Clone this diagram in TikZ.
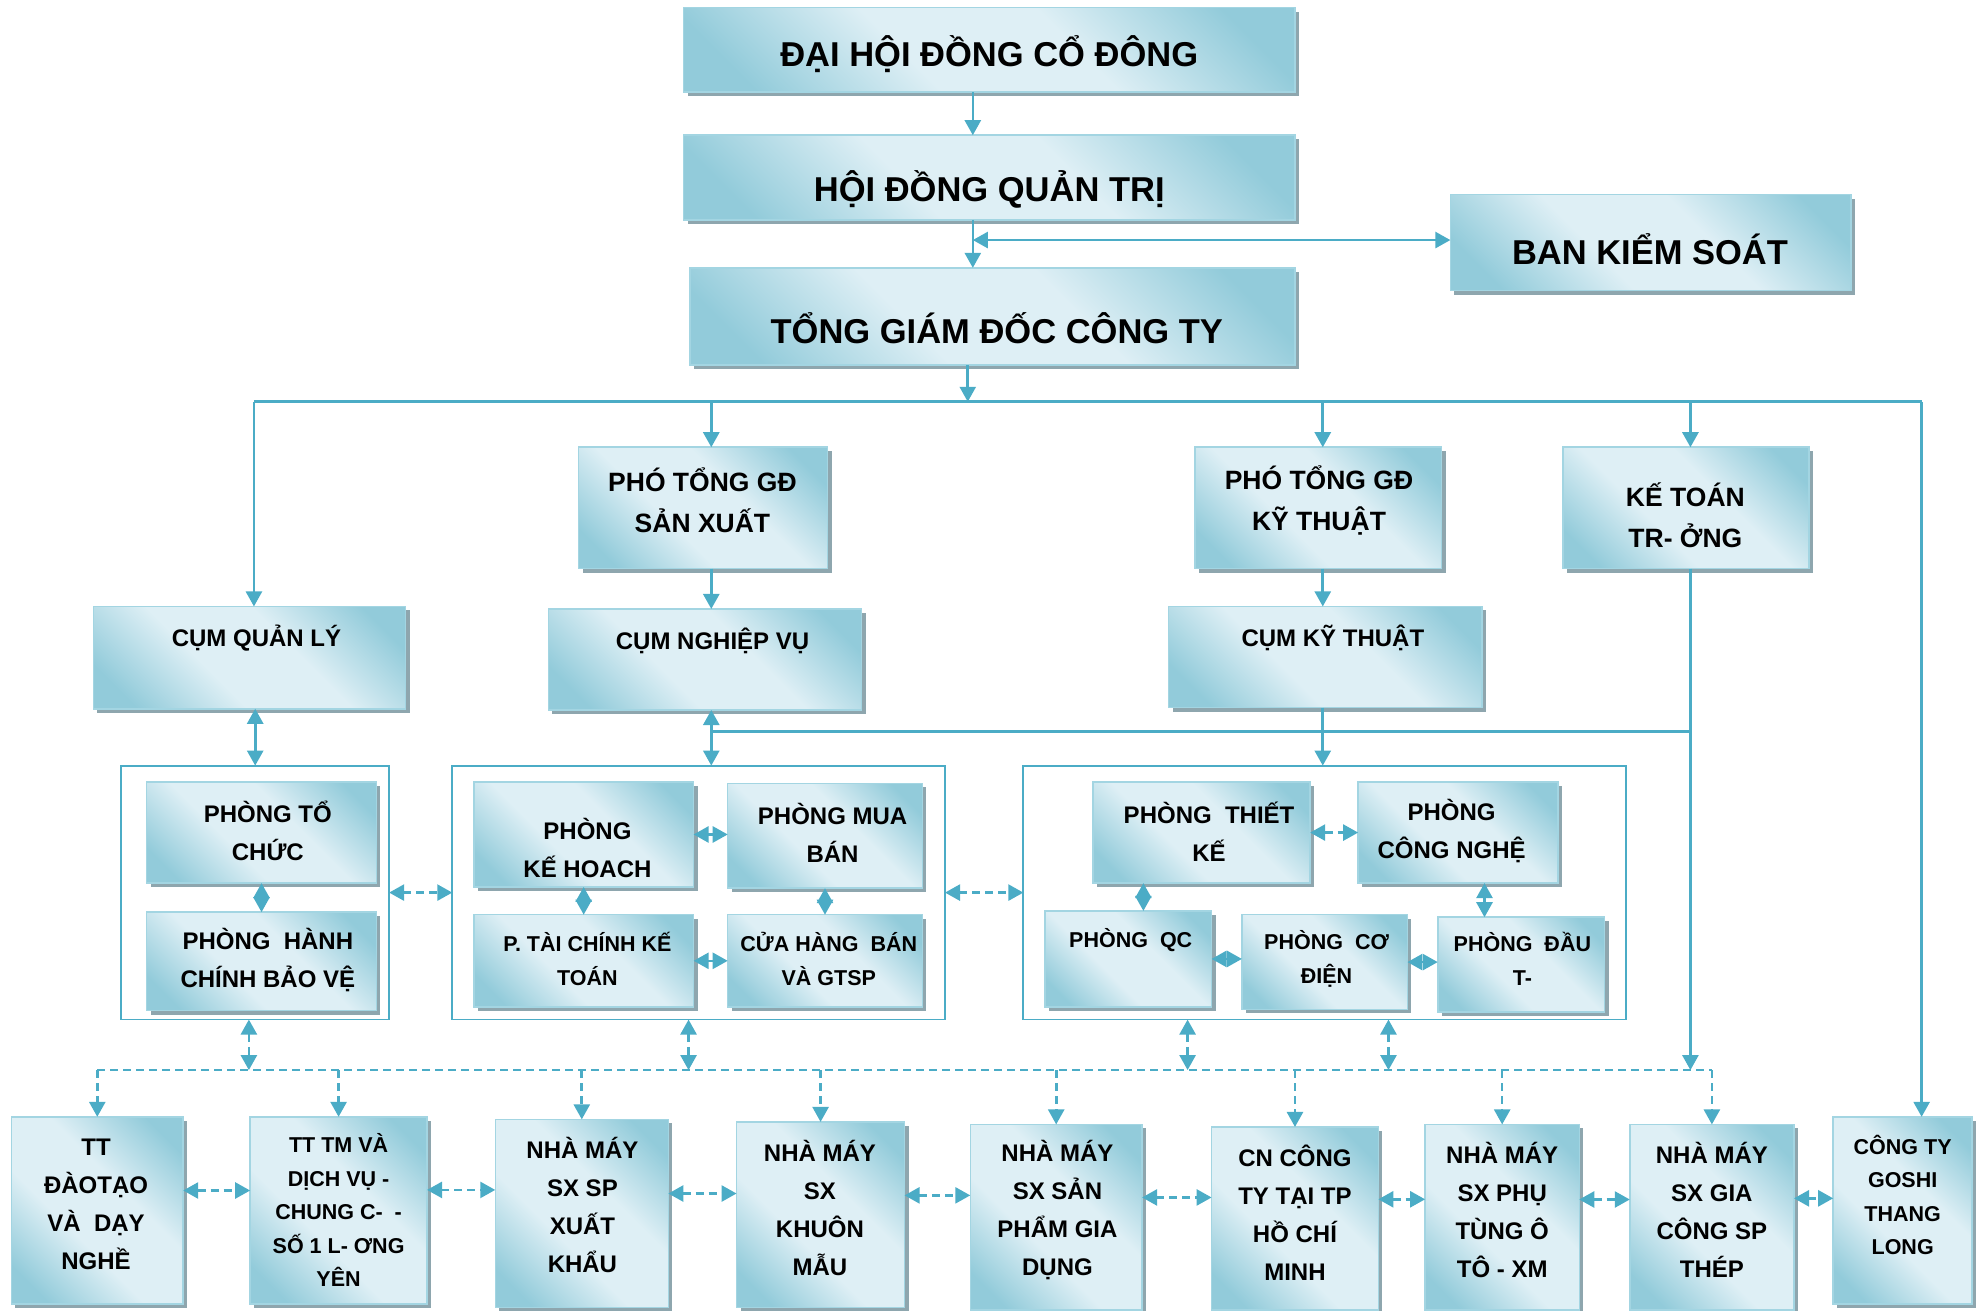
\documentclass[tikz,border=0pt]{standalone}
\usepackage{fontspec}
\setmainfont{Liberation Sans}
\usetikzlibrary{arrows.meta,fit,shadows}
\definecolor{xanh}{HTML}{4BACC6}
\definecolor{nhat}{HTML}{DEEFF5}
\definecolor{dam}{HTML}{92CBDA}
\definecolor{vien}{HTML}{A3D5E2}
\definecolor{bong}{HTML}{8EA6AE}
\pgfdeclareverticalshading{dai}{100bp}{color(0bp)=(dam); color(22bp)=(dam); color(41bp)=(nhat); color(59bp)=(nhat); color(78bp)=(dam); color(100bp)=(dam)}

\begin{document}
\begin{tikzpicture}[x=1.2634pt, y=-1.2634pt,
    hop/.style={draw=vien, line width=1.5pt, shading=dai, shading angle=-45, inner sep=0pt, outer sep=0pt,
        drop shadow={shadow xshift=4pt, shadow yshift=-4pt, fill=bong, opacity=1}},
    khung/.style={draw=xanh, line width=1.8pt, inner sep=0pt, outer sep=0pt},
    chu1/.style={font=\bfseries\fontsize{34.5}{40}\selectfont, inner sep=0pt},
    chu2/.style={font=\bfseries\fontsize{26.5}{41}\selectfont, align=center, inner sep=0pt},
    chu3/.style={font=\bfseries\fontsize{24}{38}\selectfont, align=center, inner sep=0pt},
    chu4/.style={font=\bfseries\fontsize{21.5}{33.5}\selectfont, align=center, inner sep=0pt},
    noi/.style={xanh, line width=2.6pt},
    tia/.style={noi, -{Triangle[width=16pt,length=15pt]}},
    hai/.style={noi, {Triangle[width=16pt,length=15pt]}-{Triangle[width=16pt,length=15pt]}},
    net/.style={dash pattern=on 8pt off 5pt}]
    \useasboundingbox (0,0) rectangle (1568,1037);

    \coordinate (tr) at (770,190);
    \coordinate (bus) at (766,318);
    \coordinate (b1) at (201,318);
    \coordinate (b2) at (563,318);
    \coordinate (b3) at (1047,318);
    \coordinate (b4) at (1338,318);
    \coordinate (b5) at (1521,318);
    \coordinate (k) at (563,579);
    \coordinate (x1) at (905,0);
    \coordinate (x2) at (1175,0);
    \coordinate (dl) at (77,847);
    \coordinate (dr) at (1355,847);
    \coordinate (d1) at (197,847);
    \coordinate (d2) at (545,847);
    \coordinate (d3) at (940,847);
    \coordinate (d4) at (1099,847);

    \node[hop, fit={(541,6) (1025,73)}] (dhdcd) {};
    \node[hop, fit={(541,107) (1025,174)}] (hdqt) {};
    \node[hop, fit={(1148,154) (1465,230)}] (bks) {};
    \node[hop, fit={(546,212) (1025,289)}] (tgd) {};
    \node[chu1] (dhdcdt) at (783,43) {ĐẠI HỘI ĐỒNG CỔ ĐÔNG};
    \node[chu1] (hdqtt) at (783,150) {HỘI ĐỒNG QUẢN TRỊ};
    \node[chu1] (bkst) at (1306,197) {BAN KIỂM SOÁT};
    \node[chu1] (tgdt) at (789,260) {TỔNG GIÁM ĐỐC CÔNG TY};

    \node[hop, fit={(458,354) (655,450)}] (ptgdsx) {};
    \node[hop, fit={(946,354) (1141,450)}] (ptgdkt) {};
    \node[hop, fit={(1237,354) (1432,450)}] (ktt) {};
    \node[chu2] (ptgdsxt) at (556,396) {PHÓ TỔNG GĐ\\SẢN XUẤT};
    \node[chu2] (ptgdktt) at (1044,396) {PHÓ TỔNG GĐ\\KỸ THUẬT};
    \node[chu2] (kttt) at (1334,408) {KẾ TOÁN\\TR- ỞNG};

    \node[hop, fit={(74,480) (321,561)}] (cql) {};
    \node[hop, fit={(434,482) (682,562)}] (cnv) {};
    \node[hop, fit={(925,480) (1173,560)}] (ckt) {};
    \node[chu3] (cqlt) at (203,505) {CỤM QUẢN LÝ};
    \node[chu3] (cnvt) at (564,507) {CỤM NGHIỆP VỤ};
    \node[chu3] (cktt) at (1055,505) {CỤM KỸ THUẬT};

    \node[khung, fit={(96,606) (308,807)}] (g1) {};
    \node[khung, fit={(358,606) (748,807)}] (g2) {};
    \node[khung, fit={(810,606) (1287,807)}] (g3) {};

    \node[hop, fit={(116,619) (298,699)}] (ptc) {};
    \node[hop, fit={(116,722) (298,800)}] (phc) {};
    \node[hop, fit={(375,619) (549,702)}] (pkh) {};
    \node[hop, fit={(576,620) (730,703)}] (pmb) {};
    \node[hop, fit={(375,724) (549,797)}] (ptck) {};
    \node[hop, fit={(576,724) (730,797)}] (pch) {};
    \node[hop, fit={(865,619) (1037,699)}] (ptk) {};
    \node[hop, fit={(1075,619) (1233,699)}] (pcn) {};
    \node[hop, fit={(827,721) (959,797)}] (pqc) {};
    \node[hop, fit={(983,724) (1114,799)}] (pcd) {};
    \node[hop, fit={(1138,726) (1270,801)}] (pdt) {};
    \node[chu3] (ptct) at (212,658) {PHÒNG TỔ\\CHỨC};
    \node[chu3] (phct) at (212,760) {PHÒNG\ \ HÀNH\\CHÍNH BẢO VỆ};
    \node[chu3] (pkht) at (465,671) {PHÒNG\\KẾ HOACH};
    \node[chu3] (pmbt) at (659,659) {PHÒNG MUA\\BÁN};
    \node[chu4] (ptckt) at (465,759) {P. TÀI CHÍNH KẾ\\TOÁN};
    \node[chu4] (pcht) at (656,759) {CỬA HÀNG\ \ BÁN\\VÀ GTSP};
    \node[chu3] (ptkt) at (957,658) {PHÒNG\ \ THIẾT\\KẾ};
    \node[chu3] (pcnt) at (1149,658) {PHÒNG\\CÔNG NGHỆ};
    \node[chu4] (pqct) at (895,744) {PHÒNG\ \ QC};
    \node[chu4] (pcdt) at (1050,759) {PHÒNG\ \ CƠ\\ĐIỆN};
    \node[chu4] (pdtt) at (1205,759) {PHÒNG\ \ ĐẦU\\T-};

    \node[hop, fit={(9,884) (145,1032)}] (tt1) {};
    \node[hop, fit={(198,884) (338,1032)}] (tt2) {};
    \node[hop, fit={(392,886) (529,1035)}] (nm3) {};
    \node[hop, fit={(583,888) (716,1035)}] (nm4) {};
    \node[hop, fit={(768,890) (904,1037)}] (nm5) {};
    \node[hop, fit={(959,892) (1091,1037)}] (cn6) {};
    \node[hop, fit={(1128,890) (1250,1037)}] (nm7) {};
    \node[hop, fit={(1290,890) (1420,1037)}] (nm8) {};
    \node[hop, fit={(1451,884) (1561,1032)}] (goshi) {};
    \node[chu3] (tt1t) at (76,953) {TT\\ĐÀOTẠO\\VÀ\ \ DẠY\\NGHỀ};
    \node[chu4] (tt2t) at (268,958) {TT TM VÀ\\DỊCH VỤ -\\CHUNG C-\ \ -\\SỐ 1 L- ƠNG\\YÊN};
    \node[chu3] (nm3t) at (461,954) {NHÀ MÁY\\SX SP\\XUẤT\\KHẨU};
    \node[chu3] (nm4t) at (649,956) {NHÀ MÁY\\SX\\KHUÔN\\MẪU};
    \node[chu3] (nm5t) at (837,958) {NHÀ MÁY\\SX SẢN\\PHẨM GIA\\DỤNG};
    \node[chu3] (cn6t) at (1025,960) {CN CÔNG\\TY TẠI TP\\HỒ CHÍ\\MINH};
    \node[chu3] (nm7t) at (1189,958) {NHÀ MÁY\\SX PHỤ\\TÙNG Ô\\TÔ - XM};
    \node[chu3] (nm8t) at (1355,958) {NHÀ MÁY\\SX GIA\\CÔNG SP\\THÉP};
    \node[chu4] (goshit) at (1506,946) {CÔNG TY\\GOSHI\\THANG\\LONG};

    \draw[tia] (dhdcd.south-|tr) -- (hdqt.north-|tr);
    \draw[tia] (hdqt.south-|tr) -- (tgd.north-|tr);
    \draw[hai] (tr) -- (tr-|bks.west);
    \draw[tia] (tgd.south-|bus) -- (bus);
    \draw[noi] (b1) -- (b5);
    \draw[tia] (b1) -- (b1|-cql.north);
    \draw[tia] (b2) -- (b2|-ptgdsx.north);
    \draw[tia] (b3) -- (b3|-ptgdkt.north);
    \draw[tia] (b4) -- (b4|-ktt.north);
    \draw[tia] (b5) -- (b5|-goshi.north);
    \draw[tia] (b2|-ptgdsx.south) -- (b2|-cnv.north);
    \draw[tia] (b3|-ptgdkt.south) -- (b3|-ckt.north);
    \draw[hai] (cql.south-|g1.north) -- (g1.north);
    \draw[hai] (b2|-cnv.south) -- (b2|-g2.north);
    \draw[tia] (b3|-ckt.south) -- (b3|-g3.north);
    \draw[noi] (k) -- (k-|b4);
    \draw[tia] (b4|-ktt.south) -- (b4|-dl);

    \draw[hai,net] (g1.east) -- (g2.west);
    \draw[hai,net] (g2.east) -- (g3.west);
    \draw[hai] (ptc.south) -- (phc.north);
    \draw[hai] (pkh.east) -- (pkh.east-|pmb.west);
    \draw[hai] (pkh.south) -- (pkh.south|-ptck.north);
    \draw[hai] (pmb.south) -- (pmb.south|-pch.north);
    \draw[hai] (ptck.east) -- (ptck.east-|pch.west);
    \draw[hai,net] (ptk.east) -- (ptk.east-|pcn.west);
    \draw[hai] (x1|-ptk.south) -- (x1|-pqc.north);
    \draw[hai] (x2|-pcn.south) -- (x2|-pdt.north);
    \draw[hai] (pqc.east) -- (pqc.east-|pcd.west);
    \draw[hai] (pcd.east) -- (pcd.east-|pdt.west);

    \draw[hai,net] (d1|-g1.south) -- (d1);
    \draw[hai,net] (d2|-g2.south) -- (d2);
    \draw[hai,net] (d3|-g3.south) -- (d3);
    \draw[hai,net] (d4|-g3.south) -- (d4);
    \draw[noi,net] (dl) -- (dr);
    \foreach \n in {tt1,tt2,nm3,nm4,nm5,cn6,nm7,nm8}
        \draw[tia,net] (\n.north|-dl) -- (\n.north);
    \foreach \a/\b in {tt1/tt2,tt2/nm3,nm3/nm4,nm4/nm5,nm5/cn6,cn6/nm7,nm7/nm8,nm8/goshi}
        \draw[hai,net] (\a.13) -- (\a.13-|\b.west);
\end{tikzpicture}
\end{document}
